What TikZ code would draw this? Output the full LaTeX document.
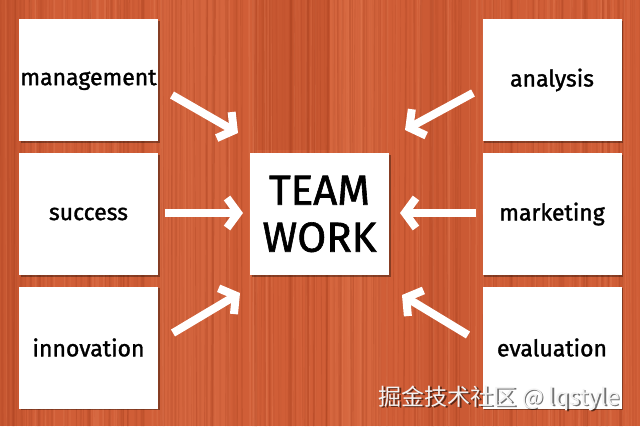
\documentclass[tikz,border=0pt]{standalone}
\usepackage{fontspec}
\setmainfont{Fira Sans}
\newfontfamily\hand[FakeBold=1.4]{Fira Sans}
\newfontfamily\cjk{Noto Sans CJK SC}
\usetikzlibrary{arrows.meta}
\definecolor{wood}{HTML}{D05E37}
\definecolor{woodDark}{HTML}{A8401F}
\definecolor{woodLight}{HTML}{E8825A}
\tikzset{
  card/.style={draw=none, fill=white, minimum width=139pt, minimum height=122pt, inner sep=0pt,
    font=\hand\fontsize{23}{24}\selectfont, text=black},
  bigcard/.style={card, font=\hand\fontsize{42}{46}\selectfont, align=center},
  arr/.style={draw=white, line width=8pt, -{Straight Barb[length=11pt,width=30pt]}},
  shadowbox/.style={fill=black, opacity=0.35}
}
\begin{document}
\begin{tikzpicture}[x=1pt,y=-1pt]
\useasboundingbox (0,0) rectangle (640,426);
\fill[wood] (0,0) rectangle (640,426);
% broad variations
\fill[woodDark,opacity=0.22] (255,0) rectangle (330,150);
\fill[woodLight,opacity=0.25] (330,0) rectangle (380,426);
\fill[woodDark,opacity=0.18] (0,0) rectangle (25,426);
\fill[woodLight,opacity=0.2] (160,0) rectangle (230,426);
\fill[woodDark,opacity=0.12] (420,0) rectangle (480,426);
% grain
\pgfmathsetseed{11}
\foreach \i in {1,...,220}{
  \pgfmathsetmacro\gx{rnd*640}
  \pgfmathsetmacro\gw{0.4+rnd*2.2}
  \pgfmathsetmacro\go{0.08+rnd*0.28}
  \draw[line width=\gw pt, draw=woodDark, opacity=\go] (\gx,0) -- (\gx+rnd*6-3,426);
}
\foreach \i in {1,...,120}{
  \pgfmathsetmacro\gx{rnd*640}
  \pgfmathsetmacro\gw{0.4+rnd*1.5}
  \pgfmathsetmacro\go{0.08+rnd*0.25}
  \draw[line width=\gw pt, draw=woodLight, opacity=\go] (\gx,0) -- (\gx+rnd*6-3,426);
}
% shadows
\foreach \cx/\cy in {88.5/80,88.5/214,88.5/347.5,319.5/214,552/80,552/214,552/347.5}{
  \fill[shadowbox] (\cx-69.5+1.5,\cy-61+1.5) rectangle (\cx+69.5+1.5,\cy+61+1.5);
}
% cards
\node[card] (mgmt) at (88.5,80) {\raisebox{4pt}{management}};
\node[card] (succ) at (88.5,214) {success};
\node[card] (inno) at (88.5,347.5) {\raisebox{-2pt}{innovation}};
\node[bigcard] (team) at (319.5,214) {TEAM\\[1pt]WORK};
\node[card] (anal) at (552,80) {analysis};
\node[card] (mark) at (552,214) {marketing};
\node[card] (eval) at (552,347.5) {evaluation};
% arrow ends
\coordinate (tlA) at (172,95);  \coordinate (tlB) at (238,133);
\coordinate (mlA) at (165,213); \coordinate (mlB) at (243,213);
\coordinate (blA) at (173,333); \coordinate (blB) at (240,293);
\coordinate (trA) at (473,93);  \coordinate (trB) at (405,130);
\coordinate (mrA) at (476,213); \coordinate (mrB) at (400,213);
\coordinate (brA) at (468,335); \coordinate (brB) at (402,295);
\foreach \a in {tl,ml,bl,tr,mr,br}{
  \draw[arr] (\a A) -- (\a B);
}
% watermark
\node[anchor=east, text=black, opacity=0.55, font=\cjk\fontsize{23}{25}\selectfont] at (625,399.5) {掘金技术社区 @ lqstyle};
\node[anchor=east, text=white!90!gray, font=\cjk\fontsize{23}{25}\selectfont] (wm) at (623.5,398) {掘金技术社区 @ lqstyle};
\end{tikzpicture}
\end{document}
